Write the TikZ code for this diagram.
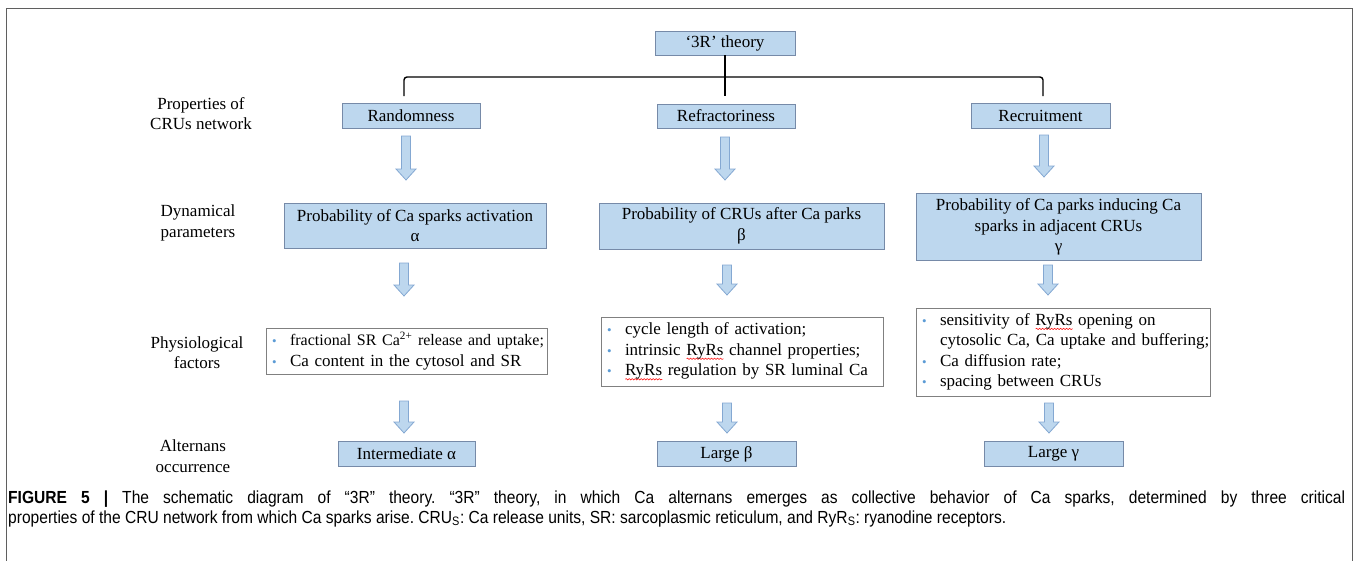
\documentclass[tikz,border=0pt]{standalone}
\usepackage{fontspec}
\setmainfont{Liberation Serif}
\newfontfamily\capfont[FakeStretch=0.89]{Liberation Sans}
\usetikzlibrary{decorations.pathmorphing}

\definecolor{boxfill}{RGB}{189,215,238}
\definecolor{boxline}{RGB}{118,138,168}
\definecolor{arrowline}{RGB}{132,168,210}
\definecolor{listline}{RGB}{128,128,128}
\definecolor{bulletblue}{RGB}{91,155,213}
\definecolor{framegray}{RGB}{95,95,95}

\newsavebox{\wavebox}
\newcommand{\itm}{\makebox[18pt][l]{\textcolor{bulletblue}{\fontsize{13}{13}\selectfont\textbullet}}}
\newcommand{\spellwave}[1]{\sbox{\wavebox}{#1}\rlap{\tikz[baseline=0pt]\draw[red, line width=0.5pt, decorate,
    decoration={snake, amplitude=0.7pt, segment length=3pt}] (0pt,-3.5pt) -- (\wd\wavebox,-3.5pt);}\usebox{\wavebox}}

\begin{document}
\begin{tikzpicture}[x=1pt, y=-1pt,
    every node/.style={font=\fontsize{17}{20.5}\selectfont},
    bluebox/.style={draw=boxline, fill=boxfill, line width=0.8pt, inner sep=0pt, align=center},
    listbox/.style={draw=listline, fill=white, line width=0.8pt, inner xsep=6pt, inner ysep=0pt, align=left},
    rowlabel/.style={align=center, inner sep=0pt},
    tree/.style={line width=1.4pt, rounded corners=3pt},
    pics/downarr/.style={code={
      \draw[draw=arrowline, fill=boxfill, line width=0.8pt]
        (-4.5,0) -- (4.5,0) -- (4.5,#1-11) -- (10,#1-11) -- (0,#1) -- (-10,#1-11) -- (-4.5,#1-11) -- cycle;}}]

    \useasboundingbox (0,0) rectangle (1358,560);
    \draw[framegray, line width=1.6pt] (6.5,570) -- (6.5,8.5) -- (1352.5,8.5) -- (1352.5,570);

    % Top of the tree
    \node[bluebox, minimum width=140pt, minimum height=24pt] (theory) at (725,43) {‘3R’ theory};

    % Properties of CRUs network
    \node[bluebox, minimum width=138pt, minimum height=25pt] (rand) at (411,115.5) {Randomness};
    \node[bluebox, minimum width=138pt, minimum height=24pt] (refr) at (726,116) {Refractoriness};
    \node[bluebox, minimum width=139pt, minimum height=25pt] (recr) at (1040.5,115.5) {Recruitment};

    % Dynamical parameters
    \node[bluebox, minimum width=262pt, minimum height=45pt] (alpha) at (415,225.5) {Probability of Ca sparks activation\\α};
    \node[bluebox, minimum width=285pt, minimum height=46pt] (beta) at (741.5,226) {Probability of CRUs after Ca parks\\β};
    \node[bluebox, minimum width=285pt, minimum height=67pt] (gamma) at (1058.5,227) {Probability of Ca parks inducing Ca\\sparks in adjacent CRUs\\γ};

    % Physiological factors
    \node[listbox, minimum width=281pt, text width=269pt, minimum height=46pt] (physA) at (406.5,351)
      {\itm\mbox{\fontsize{16}{20.5}\selectfont fractional SR Ca\textsuperscript{2+} release and uptake;}\\
       \itm\mbox{Ca content in the cytosol and SR}};
    \node[listbox, minimum width=282pt, text width=270pt, minimum height=69pt] (physB) at (742,351.5)
      {\itm\mbox{cycle length of activation;}\\
       \itm\mbox{intrinsic \spellwave{RyRs} channel properties;}\\
       \itm\mbox{\spellwave{RyRs} regulation by SR luminal Ca}};
    \node[listbox, minimum width=294pt, text width=282pt, minimum height=88pt] (physG) at (1063,352)
      {\itm\mbox{sensitivity of \spellwave{RyRs} opening on}\\
       \hspace*{18pt}\mbox{cytosolic Ca, Ca uptake and buffering;}\\
       \itm\mbox{Ca diffusion rate;}\\
       \itm\mbox{spacing between CRUs}};

    % Alternans occurrence
    \node[bluebox, minimum width=137pt, minimum height=25.5pt] (altA) at (406.5,454) {Intermediate α};
    \node[bluebox, minimum width=139pt, minimum height=25pt] (altB) at (726.5,454) {Large β};
    \node[bluebox, minimum width=139pt, minimum height=25pt] (altG) at (1053.5,454) {Large γ};

    % Row labels
    \node[rowlabel] (lblProp) at (201,113.5) {Properties of\\CRUs network};
    \node[rowlabel] (lblDyn) at (198,223) {Dynamical\\parameters};
    \node[rowlabel] (lblPhys) at (197,352.5) {Physiological\\factors};
    \node[rowlabel] (lblAlt) at (193,456) {Alternans\\occurrence};

    % Tree connectors
    \coordinate (jL) at (404,96);
    \coordinate (jR) at (1043,96);
    \coordinate (bar) at (725,77);
    \draw[tree] (jL) |- (bar) -| (jR);
    \draw[tree] (theory.south) -- (theory.south |- jL);

    % Block arrows between rows
    \pic at (406,136) {downarr=44};
    \pic at (725,137) {downarr=43};
    \pic at (1044,135) {downarr=42};
    \pic at (404,263) {downarr=33};
    \pic at (727,265) {downarr=30};
    \pic at (1048,265) {downarr=30};
    \pic at (404,401) {downarr=32};
    \pic at (727,403) {downarr=30};
    \pic at (1049,403) {downarr=30};

    % Caption
    \node[anchor=base west, inner sep=0pt, font=\capfont\frenchspacing\fontsize{17.5}{20}\selectfont] (cap1) at (8,503)
      {\makebox[1337pt][s]{\textbf{FIGURE 5 |} The schematic diagram of “3R” theory. “3R” theory, in which Ca alternans emerges as collective behavior of Ca sparks, determined by three critical}};
    \node[anchor=base west, inner sep=0pt, font=\capfont\frenchspacing\fontsize{17.5}{20}\selectfont] (cap2) at (8,523)
      {properties of the CRU network from which Ca sparks arise. CRU\textsubscript{S}: Ca release units, SR: sarcoplasmic reticulum, and RyR\textsubscript{S}: ryanodine receptors.};
\end{tikzpicture}
\end{document}
